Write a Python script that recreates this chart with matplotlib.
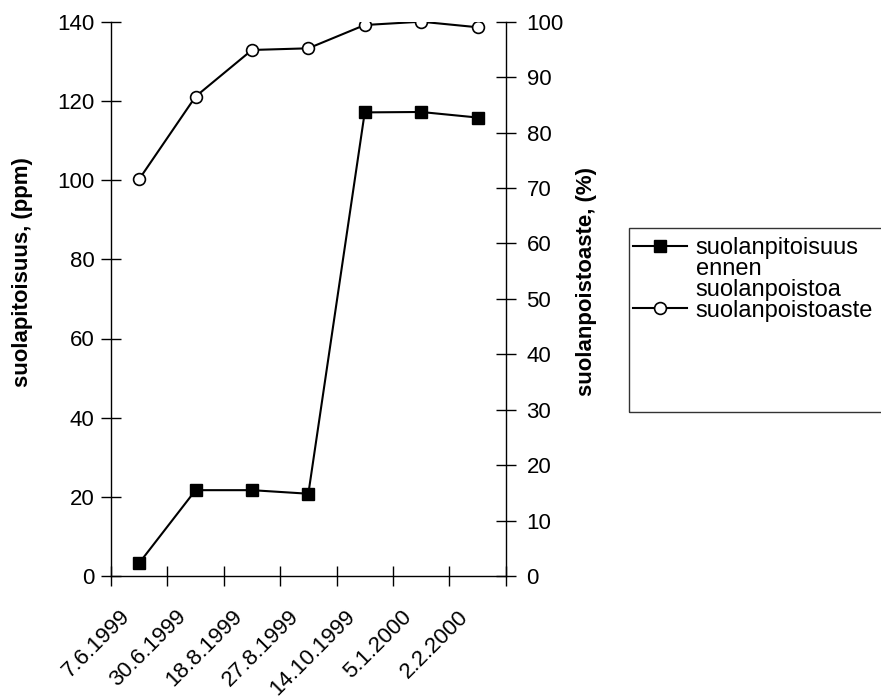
import matplotlib.pyplot as plt
from matplotlib.patches import Rectangle
from matplotlib.lines import Line2D
import numpy as np

plt.rcParams['font.family'] = ['Liberation Sans', 'DejaVu Sans']

dates = ['7.6.1999', '30.6.1999', '18.8.1999', '27.8.1999', '14.10.1999', '5.1.2000', '2.2.2000']
salt_ppm = [3.3, 21.7, 21.7, 20.8, 117.1, 117.2, 115.8]
removal_pct = [71.6, 86.5, 94.9, 95.2, 99.4, 100.0, 99.0]

fig = plt.figure(figsize=(8.81, 7), dpi=100)
ax = fig.add_axes([0.126, 0.177, 0.448, 0.792])
ax2 = ax.twinx()

x = np.arange(len(dates)) + 0.5
l1, = ax.plot(x, salt_ppm, color='black', lw=1.5, marker='s', ms=8.5,
              mfc='black', mec='black')
l2, = ax2.plot(x, removal_pct, color='black', lw=1.5, marker='o', ms=8.5,
               mfc='white', mec='black', mew=1.2)

ax.set_xlim(0, len(dates))
ax.set_ylim(0, 140)
ax2.set_ylim(0, 100)
ax.set_yticks(range(0, 141, 20))
ax2.set_yticks(range(0, 101, 10))
ax.set_xticks(range(len(dates) + 1))
ax.set_xticklabels([])
# labels sit a little left of the category centre, like the original
ax.set_xticks(x - 0.22, minor=True)
ax.set_xticklabels(dates, minor=True, rotation=45, ha='right', va='center',
                   rotation_mode='anchor', fontsize=16)

for a in (ax, ax2):
    a.spines['top'].set_visible(False)
    for s in a.spines.values():
        s.set_linewidth(1.0)
ax.spines['right'].set_visible(False)
ax2.spines['left'].set_visible(False)
ax2.spines['bottom'].set_visible(False)

ax.tick_params(axis='both', which='major', direction='inout', length=14, width=1, labelsize=16, pad=5)
ax.tick_params(axis='x', which='minor', length=0, pad=27)
ax2.tick_params(axis='y', direction='inout', length=14, width=1, labelsize=16, pad=8)

ax.set_ylabel('suolapitoisuus, (ppm)', fontsize=16, fontweight='bold')
ax2.set_ylabel('suolanpoistoaste, (%)', fontsize=16, fontweight='bold')
ax.yaxis.set_label_coords(-0.197, 0.549)
ax2.yaxis.set_label_coords(1.177, 0.531)

fig.patches.append(Rectangle((0.714, 0.411), 0.29, 0.263, transform=fig.transFigure,
                             fill=False, edgecolor='#333333', lw=1.0))
blank = Line2D([], [], linestyle='none')
fig.legend(handles=[l1, blank, blank, l2],
           labels=['suolanpitoisuus', 'ennen', 'suolanpoistoa', 'suolanpoistoaste'],
           loc='upper left', bbox_to_anchor=(0.697, 0.688),
           frameon=False, fontsize=17, handlelength=2.3, handletextpad=0.35,
           labelspacing=-0.05, borderpad=0.3)

fig.savefig('out.png', dpi=100)
